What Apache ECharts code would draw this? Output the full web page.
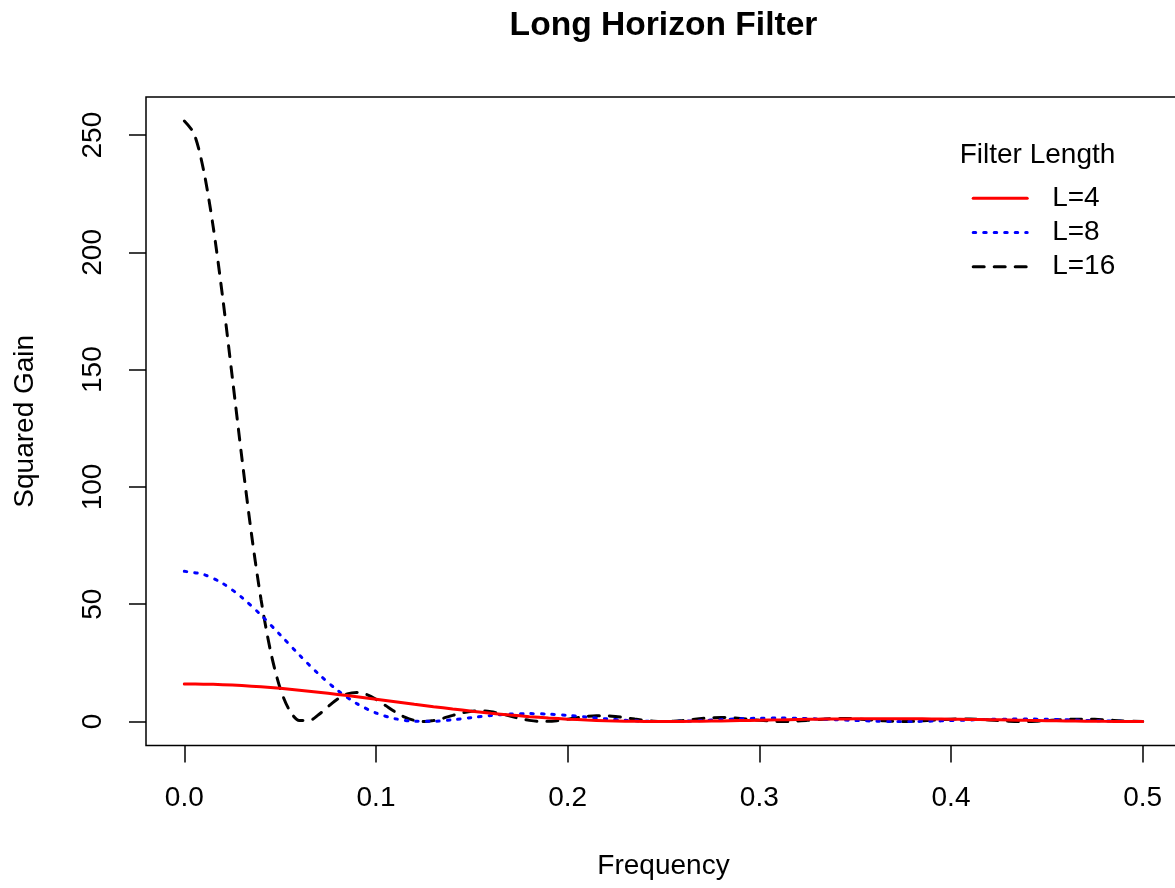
<!DOCTYPE html>
<html>
<head>
<meta charset="utf-8">
<script src="https://cdn.jsdelivr.net/npm/echarts@6/dist/echarts.min.js"></script>
<style>
  html, body { margin: 0; padding: 0; background: #fff; overflow: hidden; }
  #chart { width: 1195px; height: 888px; }
</style>
</head>
<body>
<div id="chart"></div>
<script>
// ---- Data ----
const chartTitle = 'Long Horizon Filter';
const xName = 'Frequency';
const yName = 'Squared Gain';
const legendTitle = 'Filter Length';
const seriesNames = ['L=4', 'L=8', 'L=16'];

const xTicks = [0, 0.1, 0.2, 0.3, 0.4, 0.5];
const yTicks = [0, 50, 100, 150, 200, 250];

// frequency grid for L=4 and L=8
const freqCoarse = [0, 0.01, 0.02, 0.03, 0.04, 0.05, 0.06, 0.07, 0.08, 0.09,
  0.10, 0.11, 0.12, 0.13, 0.14, 0.15, 0.16, 0.17, 0.18, 0.19,
  0.20, 0.21, 0.22, 0.23, 0.24, 0.25, 0.26, 0.27, 0.28, 0.29,
  0.30, 0.31, 0.32, 0.33, 0.34, 0.35, 0.36, 0.37, 0.38, 0.39,
  0.40, 0.41, 0.42, 0.43, 0.44, 0.45, 0.46, 0.47, 0.48, 0.49, 0.50];

// frequency grid for L=16
const freqFine = [0, 0.005, 0.01, 0.015, 0.02, 0.025, 0.03, 0.035, 0.04, 0.045,
  0.05, 0.055, 0.06, 0.065, 0.07, 0.075, 0.08, 0.085, 0.09, 0.095,
  0.10, 0.105, 0.11, 0.115, 0.12, 0.125, 0.13, 0.135, 0.14, 0.145,
  0.15, 0.155, 0.16, 0.165, 0.17, 0.175, 0.18, 0.185, 0.19, 0.195,
  0.20, 0.205, 0.21, 0.215, 0.22, 0.225, 0.23, 0.235, 0.24, 0.245,
  0.25, 0.255, 0.26, 0.265, 0.27, 0.275, 0.28, 0.285, 0.29, 0.295,
  0.30, 0.305, 0.31, 0.315, 0.32, 0.325, 0.33, 0.335, 0.34, 0.345,
  0.35, 0.355, 0.36, 0.365, 0.37, 0.375, 0.38, 0.385, 0.39, 0.395,
  0.40, 0.405, 0.41, 0.415, 0.42, 0.425, 0.43, 0.435, 0.44, 0.445,
  0.45, 0.455, 0.46, 0.465, 0.47, 0.475, 0.48, 0.485, 0.49, 0.495, 0.50];

const gain4 = [16, 15.92, 15.69, 15.30, 14.77, 14.12, 13.35, 12.48, 11.53, 10.52,
  9.472, 8.409, 7.350, 6.315, 5.322, 4.389, 3.528, 2.751, 2.068, 1.483,
  1.000, 0.618, 0.334, 0.141, 0.034, 0, 0.030, 0.110, 0.228, 0.372,
  0.528, 0.685, 0.833, 0.962, 1.066, 1.139, 1.179, 1.183, 1.152, 1.090,
  1.000, 0.888, 0.760, 0.623, 0.486, 0.354, 0.236, 0.137, 0.062, 0.016, 0];

const gain8 = [64, 62.68, 58.86, 52.91, 45.38, 36.96, 28.37, 20.28, 13.24, 7.627,
  3.618, 1.181, 0.116, 0.0996, 0.748, 1.676, 2.558, 3.160, 3.361, 3.153,
  2.618, 1.898, 1.153, 0.531, 0.132, 0, 0.116, 0.412, 0.789, 1.142,
  1.382, 1.456, 1.353, 1.105, 0.773, 0.435, 0.166, 0.019, 0.018, 0.153,
  0.382, 0.644, 0.873, 1.013, 1.032, 0.927, 0.724, 0.473, 0.233, 0.062, 0];

const gain16 = [256, 250.69, 235.2, 211.2, 180.8, 146.9, 112.5, 80.13, 52.12, 29.90,
  14.12, 4.584, 0.447, 0.382, 2.848, 6.340, 9.599, 11.758, 12.397, 11.521,
  9.472, 6.794, 4.084, 1.857, 0.456, 0, 0.392, 1.370, 2.585, 3.683,
  4.389, 4.549, 4.157, 3.335, 2.291, 1.266, 0.472, 0.052, 0.050, 0.410,
  1.000, 1.647, 2.180, 2.468, 2.451, 2.145, 1.630, 1.035, 0.495, 0.128,
  0, 0.120, 0.437, 0.857, 1.267, 1.564, 1.678, 1.584, 1.311, 0.928,
  0.528, 0.202, 0.023, 0.022, 0.190, 0.475, 0.801, 1.085, 1.256, 1.275,
  1.139, 0.884, 0.572, 0.279, 0.073, 0, 0.072, 0.265, 0.529, 0.796,
  1.000, 1.090, 1.046, 0.880, 0.633, 0.365, 0.142, 0.016, 0.016, 0.140,
  0.354, 0.606, 0.832, 0.977, 1.005, 0.910, 0.716, 0.470, 0.232, 0.062, 0];

// ---- Chart ----
const FONT = '"Liberation Sans", Arial, Helvetica, sans-serif';
const zip = (xs, ys) => xs.map((x, i) => [x, ys[i]]);

const chart = echarts.init(document.getElementById('chart'), null, { renderer: 'canvas' });

const baseLabel = { fontSize: 28, color: '#000', fontFamily: FONT };

const option = {
  animation: false,
  backgroundColor: '#ffffff',
  textStyle: { fontFamily: FONT },
  grid: {
    left: 146, top: 97, width: 1035, height: 648.5,
    show: true, borderColor: '#000', borderWidth: 1.5,
    backgroundColor: 'transparent'
  },
  xAxis: {
    type: 'value', min: -0.02, max: 0.52,
    name: xName, nameLocation: 'middle', nameGap: 107,
    nameTextStyle: baseLabel,
    axisLine: { show: false, onZero: false },
    axisTick: { show: true, inside: false, length: 17, customValues: xTicks, lineStyle: { color: '#000', width: 1.5 } },
    axisLabel: Object.assign({ customValues: xTicks, margin: 39, formatter: v => v.toFixed(1) }, baseLabel),
    splitLine: { show: false }
  },
  yAxis: {
    type: 'value', min: -10.24, max: 266.24,
    name: yName, nameLocation: 'middle', nameGap: 106.5, nameRotate: 90,
    nameTextStyle: baseLabel,
    axisLine: { show: false, onZero: false },
    axisTick: { show: true, inside: false, length: 17, customValues: yTicks, lineStyle: { color: '#000', width: 1.5 } },
    axisLabel: Object.assign({ customValues: yTicks, margin: 38.5, rotate: 90, formatter: v => String(v) }, baseLabel),
    splitLine: { show: false }
  },
  legend: {
    orient: 'vertical', left: 971.7, top: 184.3, padding: 0,
    itemWidth: 54, itemHeight: 14, itemGap: 6.2,
    data: seriesNames,
    selectedMode: false,
    lineStyle: { width: 3 },
    itemStyle: { color: 'rgba(0,0,0,0)', borderWidth: 0, opacity: 0 },
    textStyle: { fontSize: 28, color: '#000', fontFamily: FONT, padding: [0, 0, 0, 20] }
  },
  graphic: [
    {
      type: 'text', x: 663.5, y: 26,
      style: { text: chartTitle, font: 'bold 33.6px ' + FONT, fill: '#000', textAlign: 'center', textVerticalAlign: 'middle' }
    },
    {
      type: 'text', x: 1037.5, y: 155,
      style: { text: legendTitle, font: '28px ' + FONT, fill: '#000', textAlign: 'center', textVerticalAlign: 'middle' }
    }
  ],
  series: [
    {
      name: seriesNames[2], type: 'line', data: zip(freqFine, gain16),
      symbol: 'none', smooth: 0.3, z: 2,
      lineStyle: { color: '#000000', width: 3, type: [11, 10], cap: 'round' },
      itemStyle: { color: '#000000' }
    },
    {
      name: seriesNames[1], type: 'line', data: zip(freqCoarse, gain8),
      symbol: 'none', smooth: 0.3, z: 3,
      lineStyle: { color: '#0000FF', width: 3, type: [2.5, 8], cap: 'round' },
      itemStyle: { color: '#0000FF' }
    },
    {
      name: seriesNames[0], type: 'line', data: zip(freqCoarse, gain4),
      symbol: 'none', smooth: 0.3, z: 4,
      lineStyle: { color: '#FF0000', width: 3, type: 'solid', cap: 'round' },
      itemStyle: { color: '#FF0000' }
    }
  ]
};

chart.setOption(option);
</script>
</body>
</html>
